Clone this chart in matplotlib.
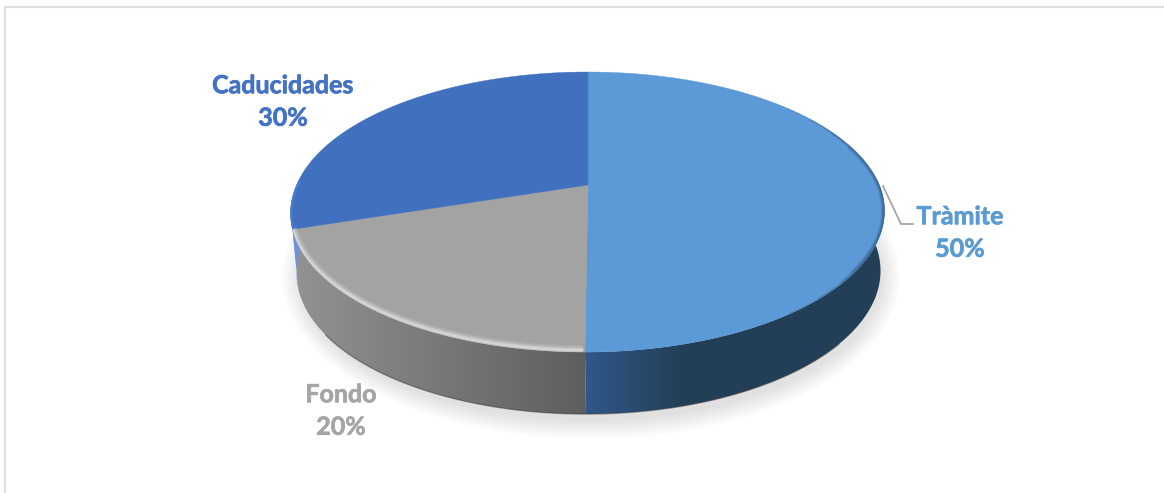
"""
Fake 3D pie chart (Tramite / Fondo / Caducidades), drawn in pixel coordinates.
"""

import numpy as np
import matplotlib.pyplot as plt
import matplotlib.patheffects as pe
from matplotlib.patches import Polygon, Ellipse

categories = ['Tràmite', 'Fondo', 'Caducidades']
values = [50, 20, 30]
face_colors = ['#5b9ad6', '#a3a3a3', '#4170bf']
label_colors = ['#5b9bd5', '#a5a5a5', '#4472c4']
# wall gradient per slice, left colour then right colour
wall_colors = [('#31598a', '#233f58'), ('#939393', '#5e5e5e'), ('#6b94dc', '#6b94dc')]
label_pos = [(960, 233), (341, 411), (283, 102)]

W, H = 1164, 493
CX = 588
PERSP = 0.193


def top_rim(theta):
    """Point on the tilted top disc, theta clockwise from 12 o'clock (radians)."""
    u, v = np.sin(theta), np.cos(theta)
    d = 1 + PERSP * v
    x = CX + 291.4 * u / d
    y = (185 - 99.1 * v) / d
    # the front half leans slightly to the left
    x = x - 3 * np.clip(y - 185, 0, None) / 167
    return x, y


def bottom_rim(theta):
    x, y = top_rim(theta)
    return 589 + (x - CX) * 292 / 297, 272 + (y - 212) * 142 / 140


def hex_rgb(c):
    return np.array([int(c[i:i + 2], 16) / 255 for i in (1, 3, 5)])


fig = plt.figure(figsize=(W / 100, H / 100), dpi=100)
ax = fig.add_axes([0, 0, 1, 1])
ax.axis('off')

# soft shadow under the disc
for grow in np.arange(20, 0, -2):
    ax.add_patch(Ellipse((591, 277), 2 * (289 + grow), 2 * (142 + grow), fc='k', ec='none',
                         alpha=0.013, zorder=1))

fracs = np.cumsum([0] + values) / sum(values)
angles = 2 * np.pi * fracs

# side walls
for i in range(len(values)):
    th = np.linspace(angles[i], angles[i + 1], 200)
    xt, yt = top_rim(th)
    xb, yb = bottom_rim(th)
    poly = Polygon(np.r_[np.c_[xt, yt], np.c_[xb, yb][::-1]], closed=True, fc='none', ec='none',
                   zorder=2)
    ax.add_patch(poly)
    c0, c1 = hex_rgb(wall_colors[i][0]), hex_rgb(wall_colors[i][1])
    if i == 0:
        # blue wall reaches its dark tone quickly, then stays flat
        t = np.clip(np.linspace(0, 1, 300) / 0.33, 0, 1)
        ext = (580, 890, 420, 180)
    else:
        t = np.clip(np.linspace(0, 1, 300) * 1.017, 0, 1)
        ext = (290, 590, 420, 180)
    grad = c0 + (c1 - c0) * t[:, None]
    im = ax.imshow(grad[None, :, :], extent=ext, aspect='auto', zorder=2 + i * 0.1,
                   interpolation='bilinear')
    im.set_clip_path(poly)

# dark line along the bottom of the wall
th = np.linspace(np.pi * 0.72, np.pi * 1.3, 200)
ax.plot(*bottom_rim(th), color='#3a3a3a', lw=1.0, alpha=0.5, zorder=3)

# top faces
all_th = np.linspace(0, 2 * np.pi, 720)
disc = Polygon(np.c_[top_rim(all_th)], closed=True, fc='none', ec='none', zorder=4)
ax.add_patch(disc)
apex = (CX, 185)
for i in range(len(values)):
    th = np.linspace(angles[i], angles[i + 1], 300)
    pts = np.r_[[apex], np.c_[top_rim(th)]]
    ax.add_patch(Polygon(pts, closed=True, fc=face_colors[i], ec=face_colors[i], lw=0.3, zorder=4))

# bevel: dark on the right side tapering towards both ends
for lw, a, b in ((5, 0.40, 0.70), (3.5, 0.36, 0.72), (2.2, 0.32, 0.76), (1.2, 0.28, 0.80)):
    th = np.linspace(np.pi * a, np.pi * b, 200)
    ln, = ax.plot(*top_rim(th), color='#1d3650', lw=lw, alpha=0.16, zorder=5,
                  solid_capstyle='butt')
    ln.set_clip_path(disc)

# light band on the front of the grey slice
for lw, a in ((7, 0.10), (5, 0.16), (3, 0.26), (1.5, 0.34)):
    th = np.linspace(angles[1] + 0.005, angles[2] - 0.01, 200)
    x, y = top_rim(th)
    ln, = ax.plot(x, y - 2, color='#f2f2f2', lw=lw, alpha=a, zorder=5, solid_capstyle='butt')
    ln.set_clip_path(disc)

# bright blue sliver on the far left of the disc
th = np.linspace(angles[2], angles[2] + 0.35, 60)
for lw, a in ((4, 0.35), (2, 0.6)):
    ln, = ax.plot(*top_rim(th), color='#4a80dc', lw=lw, alpha=a, zorder=5, solid_capstyle='butt')
    ln.set_clip_path(disc)

# leader line for the first label
ax.plot([883, 901, 913], [186, 224, 224], color='#a6a6a6', lw=1.3, zorder=6)

for name, val, col, pos in zip(categories, values, label_colors, label_pos):
    ax.text(pos[0], pos[1], f'{name}\n{val}%', color=col, ha='center', va='center',
            family='Lato', fontweight='bold', fontsize=18, linespacing=1.5, zorder=7,
            path_effects=[pe.withStroke(linewidth=0.5, foreground=col)])

# frame of the screenshot
ax.plot([5, 5, W], [H, 7, 7], color='#e0e0e0', lw=1.6, zorder=8)

ax.set_xlim(0, W)
ax.set_ylim(H, 0)
fig.savefig('out.png', dpi=100)
